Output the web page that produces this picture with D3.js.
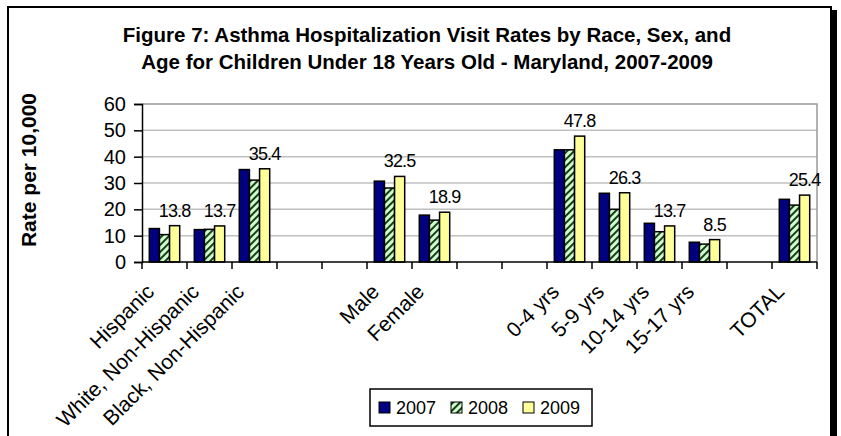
<!DOCTYPE html>
<html>
<head>
<meta charset="utf-8">
<script src="https://cdn.jsdelivr.net/npm/d3@7"></script>
<style>
  body { margin: 0; background: #fff; }
  svg { display: block; font-family: "Liberation Sans", Arial, sans-serif; }
</style>
</head>
<body>
<div id="chart"></div>
<script>
// categories (blank entries are the gaps between groups)
const categories = ["Hispanic", "White, Non-Hispanic", "Black, Non-Hispanic", "", "",
                    "Male", "Female", "", "",
                    "0-4 yrs", "5-9 yrs", "10-14 yrs", "15-17 yrs", "", "TOTAL"];
const years = ["2007", "2008", "2009"];
const rates2007 = [12.7, 12.3, 35.1, null, null, 30.7, 17.8, null, null, 42.6, 26.1, 14.7, 7.5, null, 23.8];
const rates2008 = [10.4, 12.4, 31.1, null, null, 28.1, 15.9, null, null, 42.6, 20.0, 11.5, 6.8, null, 21.6];
const rates2009 = [13.8, 13.7, 35.4, null, null, 32.5, 18.9, null, null, 47.8, 26.3, 13.7, 8.5, null, 25.4];
const yTicks = [0, 10, 20, 30, 40, 50, 60];

var width = 841, height = 436;
var plot = {left: 142, right: 817, top: 104, bottom: 262};

var svg = d3.select("#chart").append("svg")
    .attr("width", width)
    .attr("height", height);

// hatch pattern for 2008
var defs = svg.append("defs");
var pat = defs.append("pattern")
    .attr("id", "hatch")
    .attr("patternUnits", "userSpaceOnUse")
    .attr("width", 5).attr("height", 5)
    .attr("patternTransform", "rotate(45)");
pat.append("rect").attr("width", 5).attr("height", 5).attr("fill", "#ccffcc");
pat.append("rect").attr("width", 2).attr("height", 5).attr("fill", "#1a3a1a");

var fills = {"2007": "#000080", "2008": "url(#hatch)", "2009": "#ffff99"};
var seriesVals = {"2007": rates2007, "2008": rates2008, "2009": rates2009};

// outer frame with shadow
svg.append("rect").attr("x", 831).attr("y", 10).attr("width", 6).attr("height", height)
    .attr("fill", "#000");
svg.append("rect").attr("x", 8).attr("y", 7).attr("width", 823).attr("height", height)
    .attr("fill", "#fff").attr("stroke", "#000").attr("stroke-width", 2);

// title
var title = svg.append("text")
    .attr("text-anchor", "middle")
    .attr("font-weight", "bold")
    .attr("font-size", "20.5px");
title.append("tspan").attr("x", 427).attr("y", 42)
    .text("Figure 7: Asthma Hospitalization Visit Rates by Race, Sex, and");
title.append("tspan").attr("x", 427).attr("y", 69)
    .text("Age for Children Under 18 Years Old - Maryland, 2007-2009");

// scales
var x0 = d3.scaleBand()
    .domain(d3.range(categories.length))
    .range([plot.left, plot.right]);
var x1 = d3.scaleBand()
    .domain(years)
    .range([0, x0.bandwidth()])
    .paddingOuter(0.72)
    .paddingInner(0);
var y = d3.scaleLinear().domain([0, 60]).range([plot.bottom, plot.top]);

// gridlines
svg.append("g")
    .selectAll("line")
    .data(yTicks.filter(d => d > 0 && d < 60))
    .enter().append("line")
        .attr("x1", plot.left).attr("x2", plot.right)
        .attr("y1", d => y(d)).attr("y2", d => y(d))
        .attr("stroke", "#c0c0c0").attr("stroke-width", 1.5);

// plot area border (top & right)
svg.append("path")
    .attr("d", `M${plot.left},${plot.top}H${plot.right}V${plot.bottom}`)
    .attr("fill", "none").attr("stroke", "#999").attr("stroke-width", 1.5);

// bars
var groups = svg.append("g")
    .selectAll("g")
    .data(categories.map((c, i) => i))
    .enter().append("g")
        .attr("transform", i => `translate(${x0(i)},0)`);

groups.selectAll("rect")
    .data(i => years.map(yr => ({yr: yr, v: seriesVals[yr][i]})).filter(d => d.v != null))
    .enter().append("rect")
        .attr("x", d => x1(d.yr))
        .attr("width", x1.bandwidth())
        .attr("y", d => y(d.v))
        .attr("height", d => y(0) - y(d.v))
        .attr("fill", d => fills[d.yr])
        .attr("stroke", "#000")
        .attr("stroke-width", 1.5);

// data labels on 2009 bars
groups.filter(i => rates2009[i] != null)
    .append("text")
        .attr("x", x1("2009") + x1.bandwidth() / 2)
        .attr("y", i => y(rates2009[i]) - 9)
        .attr("text-anchor", "middle")
        .attr("font-size", "18px")
        .attr("letter-spacing", "-0.8px")
        .text(i => rates2009[i].toFixed(1));

// y axis
var yAxis = svg.append("g")
    .attr("transform", `translate(${plot.left},0)`)
    .call(d3.axisLeft(y).tickValues(yTicks).tickSize(8).tickPadding(8));
yAxis.select(".domain").attr("stroke", "#000").attr("stroke-width", 1.5);
yAxis.selectAll(".tick line").attr("stroke", "#000").attr("stroke-width", 1.5);
yAxis.selectAll(".tick text")
    .attr("font-size", "20px")
    .attr("font-family", "Liberation Sans, Arial, sans-serif")
    .attr("fill", "#000");

// x axis: ticks at slot boundaries
var xAxisG = svg.append("g");
xAxisG.append("line")
    .attr("x1", plot.left).attr("x2", plot.right)
    .attr("y1", plot.bottom).attr("y2", plot.bottom)
    .attr("stroke", "#000").attr("stroke-width", 1.5);
xAxisG.selectAll(".xt")
    .data(d3.range(categories.length + 1))
    .enter().append("line")
        .attr("x1", i => plot.left + i * x0.step())
        .attr("x2", i => plot.left + i * x0.step())
        .attr("y1", plot.bottom).attr("y2", plot.bottom + 7)
        .attr("stroke", "#000").attr("stroke-width", 1.5);

xAxisG.selectAll(".xl")
    .data(categories.map((c, i) => ({c: c, i: i})).filter(d => d.c !== ""))
    .enter().append("text")
        .attr("text-anchor", "end")
        .attr("font-size", "21px")
        .attr("transform", d => `translate(${x0(d.i) + x0.bandwidth() / 2 - 9},${plot.bottom + 31}) rotate(-45)`)
        .text(d => d.c);

// y axis title
svg.append("text")
    .attr("transform", `translate(36,170) rotate(-90)`)
    .attr("text-anchor", "middle")
    .attr("font-weight", "bold")
    .attr("font-size", "21px")
    .text("Rate per 10,000");

// legend
var legend = svg.append("g").attr("transform", "translate(370,389)");
legend.append("rect")
    .attr("width", 222).attr("height", 37)
    .attr("fill", "#fff").attr("stroke", "#000").attr("stroke-width", 1.5);
var li = legend.selectAll(".li")
    .data(years)
    .enter().append("g")
        .attr("transform", (d, i) => `translate(${9 + i * 72},0)`);
li.append("rect")
    .attr("y", 13).attr("width", 11).attr("height", 11)
    .attr("fill", d => fills[d])
    .attr("stroke", "#000").attr("stroke-width", 1);
li.append("text")
    .attr("x", 17).attr("y", 25)
    .attr("font-size", "18px")
    .text(d => d);
</script>
</body>
</html>
